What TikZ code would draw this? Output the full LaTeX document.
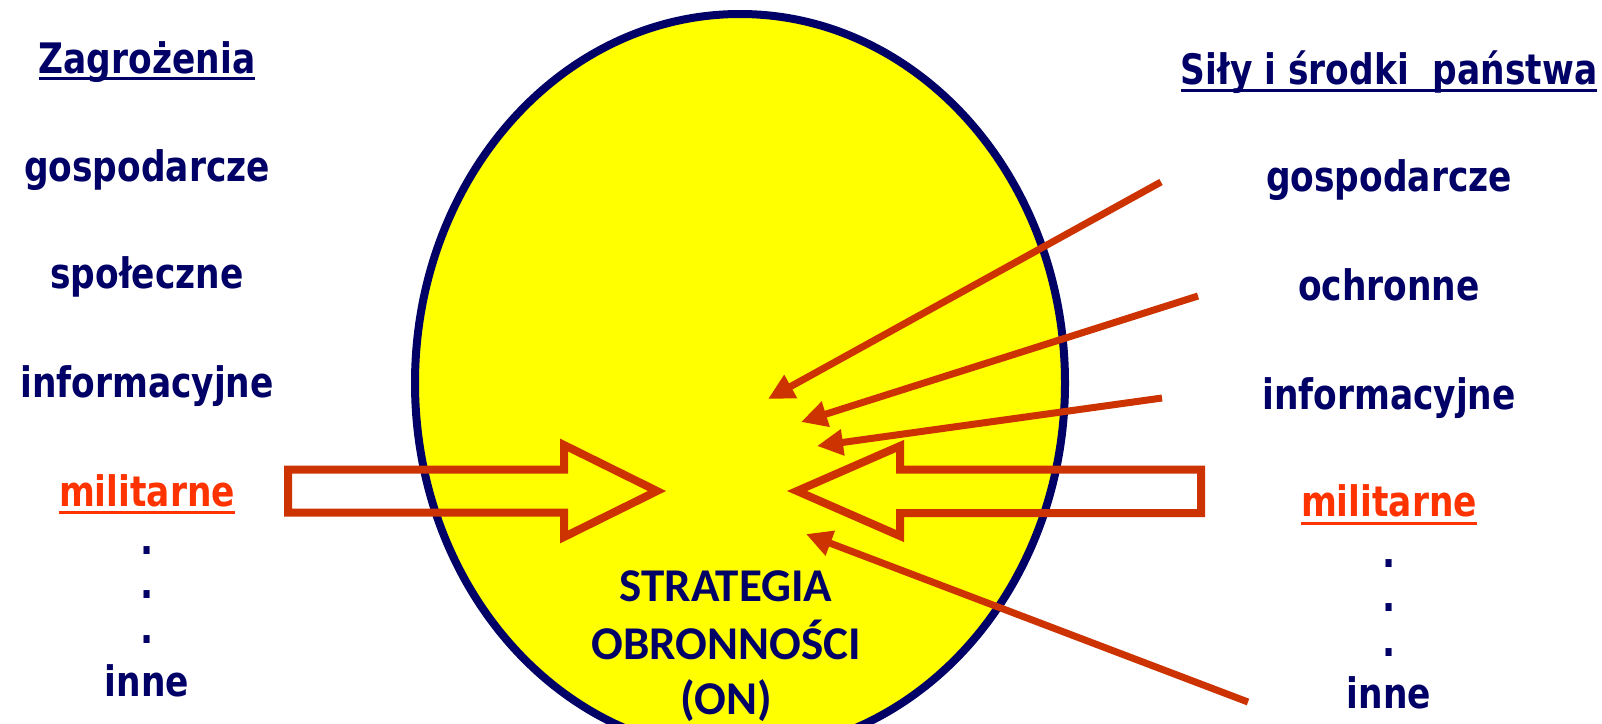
\documentclass[tikz,border=0pt]{standalone}
\usepackage{fontspec}
\usetikzlibrary{arrows.meta}
\newfontfamily\listfont[FakeStretch=0.82,BoldFont={DejaVu Sans Bold}]{DejaVu Sans}
\newfontfamily\calfont{Carlito}
\definecolor{navy}{RGB}{0,0,102}
\definecolor{milred}{RGB}{255,51,0}
\definecolor{arrred}{RGB}{204,51,0}
\definecolor{ellyellow}{RGB}{255,255,0}
\tikzset{
  lst/.style={font=\listfont\bfseries\fontsize{42}{50}\selectfont, text=navy, anchor=base, inner sep=0pt},
  mil/.style={lst, text=milred},
  uline/.style={line width=3pt},
  blockarrow/.style={draw=arrred, line width=8pt, line join=miter},
  thinarrow/.style={draw=arrred, line width=7pt, -{Triangle[length=26pt,width=25pt]}},
  center/.style={font=\calfont\bfseries\fontsize{47}{57}\selectfont, text=navy, align=center, anchor=base, inner sep=0pt}
}
\begin{document}
\begin{tikzpicture}[x=1pt,y=-1pt]
\useasboundingbox (0,0) rectangle (1602,723);
\clip (0,0) rectangle (1602,723);
\fill[white] (0,0) rectangle (1602,723);
% central ellipse
\draw[line width=8pt, draw=navy, fill=ellyellow] (740,383) ellipse [x radius=325pt, y radius=369pt];
% block arrows
\draw[blockarrow] (288,469.5) -- (564,469.5) -- (564,445) -- (657,491) -- (564,537) -- (564,512.5) -- (288,512.5) -- cycle;
\draw[blockarrow] (1201,469.5) -- (900,469.5) -- (900,446) -- (797,491) -- (900,536) -- (900,513) -- (1201,513) -- cycle;
% thin arrows
\coordinate (s1) at (1161,182); \coordinate (t1) at (768,399);
\coordinate (s2) at (1198,296); \coordinate (t2) at (801,422);
\coordinate (s3) at (1162,398); \coordinate (t3) at (817,446);
\coordinate (s4) at (1248,702); \coordinate (t4) at (806,534);
\draw[thinarrow] (s1) -- (t1);
\draw[thinarrow] (s2) -- (t2);
\draw[thinarrow] (s3) -- (t3);
\draw[thinarrow] (s4) -- (t4);
% left column
\node[lst] (zL) at (147,73) {Zagrożenia};
\draw[uline, navy] ([yshift=-5pt]zL.base west) -- ([yshift=-5pt]zL.base east);
\node[lst] (l1) at (147,181) {gospodarcze};
\node[lst] (l2) at (147,288) {społeczne};
\node[lst] (l3) at (147,397) {informacyjne};
\node[mil] (l4) at (147,506) {militarne};
\draw[uline, milred] ([yshift=-6pt]l4.base west) -- ([yshift=-6pt]l4.base east);
\node[lst] (ld1) at (147,554) {.};
\node[lst] (ld2) at (147,598) {.};
\node[lst] (ld3) at (147,643) {.};
\node[lst] (l5) at (147,696) {inne};
% right column
\node[lst] (zR) at (1389,84) {Siły i środki\ \ państwa};
\draw[uline, navy] ([yshift=-6pt]zR.base west) -- ([yshift=-6pt]zR.base east);
\node[lst] (r1) at (1389,191) {gospodarcze};
\node[lst] (r2) at (1389,300) {ochronne};
\node[lst] (r3) at (1389,409) {informacyjne};
\node[mil] (r4) at (1389,516) {militarne};
\draw[uline, milred] ([yshift=-7pt]r4.base west) -- ([yshift=-7pt]r4.base east);
\node[lst] (rd1) at (1389,567) {.};
\node[lst] (rd2) at (1389,611) {.};
\node[lst] (rd3) at (1389,656) {.};
\node[lst] (r5) at (1389,708) {inne};
% centre text
\node[center] (c1) at (726,601) {STRATEGIA};
\node[center] (c2) at (726,659) {OBRONNOŚCI};
\node[center] (c3) at (726,714) {(ON)};
\end{tikzpicture}
\end{document}
